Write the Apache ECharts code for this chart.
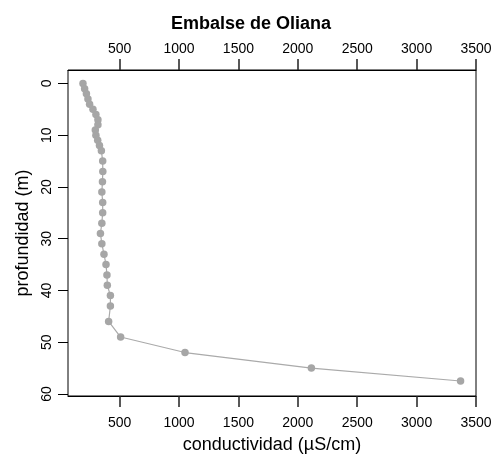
<!DOCTYPE html>
<html>
<head>
<meta charset="utf-8">
<script src="https://cdn.jsdelivr.net/npm/echarts@6/dist/echarts.min.js"></script>
<style>html,body{margin:0;padding:0;background:#fff}#c{width:502px;height:470px}</style>
</head>
<body>
<div id="c"></div>
<script>
const depths = [0,1,2,3,4,5,6,7,8,9,10,11,12,13,15,17,19,21,23,25,27,29,31,33,35,37,39,41,43,46,49,52,55,57.5];
const conductivity = [191,205,220,233,247,275,300,317,317,295,300,315,330,346,357,358,355,350,357,357,350,338,350,368,385,393,396,422,422,407,508,1050,2114,3370];
const xTicks = [500,1000,1500,2000,2500,3000,3500];
const yTicks = [0,10,20,30,40,50,60];
const titleText = 'Embalse de Oliana';
const xName = 'conductividad (µS/cm)';
const yName = 'profundidad (m)';

const font = 'Liberation Sans, Arial, sans-serif';
const chart = echarts.init(document.getElementById('c'), null, {renderer:'canvas'});
function xBase(margin){
  return {
    type:'value', min:65, max:3500,
    axisLine:{show:true, onZero:false, lineStyle:{color:'#000', width:1}}, splitLine:{show:false},
    axisTick:{show:true, length:11, customValues:xTicks, lineStyle:{color:'#222', width:1.5}},
    axisLabel:{customValues:xTicks, formatter:v=>String(v), color:'#000', fontFamily:font, fontSize:14, margin:margin}
  };
}
chart.setOption({
  animation:false,
  title:{text:titleText, left:'center', top:10, textStyle:{fontFamily:font, fontSize:18, fontWeight:'bold', color:'#000'}},
  grid:{left:68, right:26, top:70, bottom:74, show:true, borderColor:'#000', borderWidth:1, backgroundColor:'transparent'},
  xAxis:[
    Object.assign(xBase(20), {position:'bottom', name:xName, nameLocation:'middle', nameGap:40,
      nameTextStyle:{fontFamily:font, fontSize:18, color:'#000'}}),
    Object.assign(xBase(14), {position:'top'})
  ],
  yAxis:{
    type:'value', inverse:true, min:-2.6, max:60.4,
    axisLine:{show:false, onZero:false}, splitLine:{show:false},
    axisTick:{show:true, length:10, customValues:yTicks, lineStyle:{color:'#000', width:1}},
    axisLabel:{customValues:yTicks, rotate:90, color:'#000', fontFamily:font, fontSize:14, margin:14},
    name:yName, nameLocation:'middle', nameGap:31, nameRotate:90,
    nameTextStyle:{fontFamily:font, fontSize:18, color:'#000'}
  },
  series:[{
    type:'line', xAxisIndex:0,
    data:depths.map((d,i)=>[conductivity[i], d]),
    symbol:'circle', symbolSize:7.5,
    itemStyle:{color:'#a6a6a6'},
    lineStyle:{color:'#aaaaaa', width:1.2}
  }]
});
</script>
</body>
</html>
